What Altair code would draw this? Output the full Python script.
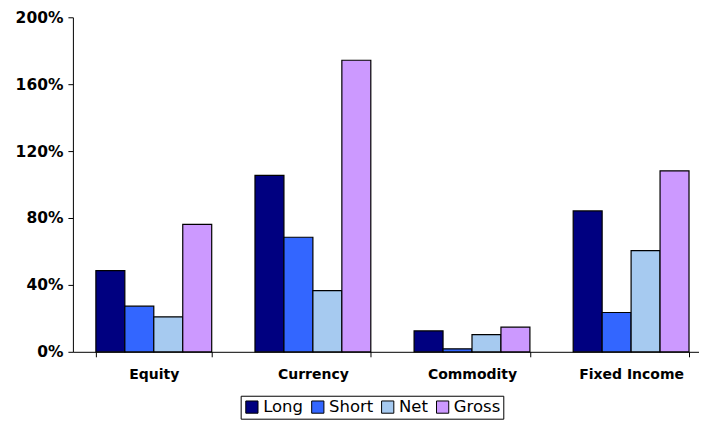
import altair as alt
import pandas as pd

categories = ["Equity", "Currency", "Commodity", "Fixed Income"]
series = ["Long", "Short", "Net", "Gross"]
long_vals = [48.5, 105.5, 12.5, 84.2]
short_vals = [27.3, 68.5, 1.8, 23.5]
net_vals = [20.9, 36.6, 10.3, 60.5]
gross_vals = [76.2, 174.3, 14.7, 108.2]
colors = ["#000080", "#3366FF", "#A6CAF0", "#CC99FF"]
y_ticks = [0, 0.4, 0.8, 1.2, 1.6, 2.0]

rows = []
for name, vals in zip(series, [long_vals, short_vals, net_vals, gross_vals]):
    for c, v in zip(categories, vals):
        rows.append({"category": c, "series": name, "value": v / 100.0})
df = pd.DataFrame(rows)

FONT = "DejaVu Sans"

chart = alt.Chart(df).mark_bar(stroke="black", strokeWidth=1.2).encode(
    x=alt.X("category:N", sort=categories, title=None,
            scale=alt.Scale(paddingInner=0.272, paddingOuter=0.1036, align=0.697),
            axis=alt.Axis(labelAngle=0, tickBand="extent", domainColor="black",
                          tickColor="black", tickSize=5, labelPadding=11,
                          labelFont=FONT, labelFontSize=14, labelFontWeight="bold",
                          labelColor="black")),
    xOffset=alt.XOffset("series:N", sort=series, scale=alt.Scale(paddingInner=0, paddingOuter=0)),
    y=alt.Y("value:Q", title=None,
            scale=alt.Scale(domain=[0, 2.0], nice=False),
            axis=alt.Axis(values=y_ticks, format=".0%", grid=False, domainColor="black",
                          tickColor="black", tickSize=5, labelPadding=5,
                          labelFont=FONT, labelFontSize=15.5, labelFontWeight="bold",
                          labelColor="black")),
    color=alt.Color("series:N", sort=series,
                    scale=alt.Scale(domain=series, range=colors),
                    legend=alt.Legend(title=None, orient="none", direction="horizontal",
                                      legendX=168, legendY=379,
                                      symbolType="square", symbolSize=150,
                                      symbolStrokeColor="black", symbolStrokeWidth=1,
                                      symbolOpacity=1,
                                      labelFont=FONT, labelFontSize=16.5, labelColor="black",
                                      labelOffset=3, columnPadding=6,
                                      strokeColor="black", padding=3, fillColor="white")),
).properties(
    width=627, height=335,
    padding={"left": 7, "top": 2, "right": 0, "bottom": 0},
).configure_view(stroke=None)

chart.save("out.html", embed_options={"renderer": "svg", "actions": False})
